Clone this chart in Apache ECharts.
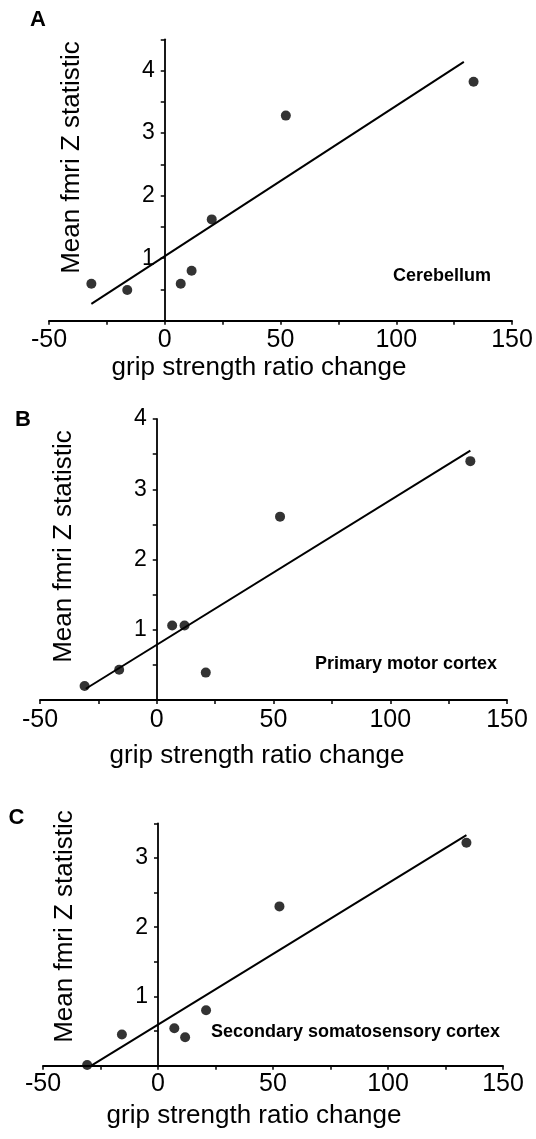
<!DOCTYPE html>
<html><head><meta charset="utf-8">
<script src="https://cdn.jsdelivr.net/npm/echarts@6/dist/echarts.min.js"></script>
<style>html,body{margin:0;padding:0;background:#fff}#c{width:536px;height:1139px}</style>
</head><body><div id="c"></div><script>
// ---- data ----
const gripA = [-31.7, -16.2, 6.9, 11.6, 20.3, 52.3, 133.4];
const zA    = [0.59, 0.49, 0.59, 0.80, 1.62, 3.28, 3.82];
const fitA  = [[-31.7, 0.27], [129.2, 4.14]];

const gripB = [-30.9, -16.1, 6.6, 11.9, 21.0, 52.8, 134.3];
const zB    = [0.20, 0.43, 1.06, 1.06, 0.39, 2.61, 3.40];
const fitB  = [[-30.4, 0.16], [134.3, 3.55]];

const gripC = [-30.8, -15.7, 7.1, 11.8, 20.9, 52.8, 134.1];
const zC    = [0.01, 0.45, 0.54, 0.41, 0.80, 2.30, 3.22];
const fitC  = [[-29.0, 0.0], [134.1, 3.33]];

const panelLetters = ['A', 'B', 'C'];
const regionNames = ['Cerebellum', 'Primary motor cortex', 'Secondary somatosensory cortex'];
const xTitle = 'grip strength ratio change';
const yTitle = 'Mean fmri Z statistic';
const xRange = [-50, 150];
const yMaxes = [4.5, 4, 3.5];

// ---- layout ----
const FONT = 'Liberation Sans';
const panels = [
  {grid: {left: 49, right: 24, top: 39.3, height: 281.4}, xNameGap: 34, xPadR: 43, yPadL: 45, xMargin: 7,
   letter: [30, 8.5], region: [393, 267.5]},
  {grid: {left: 40, right: 29, top: 419, height: 281}, xNameGap: 43, xPadR: 33, yPadL: 26, xMargin: 8,
   letter: [15, 408.5], region: [315, 655]},
  {grid: {left: 43, right: 33, top: 823.3, height: 242.4}, xNameGap: 37, xPadR: 38, yPadL: 36, xMargin: 6,
   letter: [8.5, 807], region: [211, 1023.5]}
];
const sets = [[gripA, zA, fitA], [gripB, zB, fitB], [gripC, zC, fitC]];

const grid = [], xAxis = [], yAxis = [], series = [], graphic = [];
panels.forEach((p, i) => {
  grid.push(Object.assign({containLabel: false, outerBoundsMode: 'none'}, p.grid));
  xAxis.push({
    type: 'value', gridIndex: i, min: xRange[0], max: xRange[1], interval: 25,
    name: xTitle, nameLocation: 'middle', nameGap: p.xNameGap,
    nameTextStyle: {fontFamily: FONT, fontSize: 26, color: '#000', padding: [0, p.xPadR, 0, 0]},
    axisLine: {onZero: false, lineStyle: {color: '#000', width: 1.8}},
    axisTick: {show: true, inside: false, length: 4, lineStyle: {color: '#000', width: 1.5}},
    axisLabel: {show: true, margin: p.xMargin, color: '#000', fontFamily: FONT, fontSize: 25,
      showMinLabel: true, showMaxLabel: true,
      formatter: v => (Math.round(v) % 50 === 0 ? String(Math.round(v)) : '')},
    splitLine: {show: false}
  });
  // data y axis (hidden); a visible copy is placed at x = 0 below
  yAxis.push({type: 'value', gridIndex: i, min: 0, max: yMaxes[i], interval: 0.5, show: false});
  const [gx, gz, fit] = sets[i];
  series.push({
    type: 'scatter', xAxisIndex: i, yAxisIndex: i, symbol: 'circle', symbolSize: 10,
    itemStyle: {color: '#000'}, data: gx.map((x, k) => [x, gz[k]]), z: 3
  });
  series.push({
    type: 'line', xAxisIndex: i, yAxisIndex: i, data: fit, showSymbol: false, symbol: 'none',
    lineStyle: {color: '#000', width: 2}, clip: false, z: 2
  });
  graphic.push({type: 'text', left: p.letter[0], top: p.letter[1],
    style: {text: panelLetters[i], fontFamily: FONT, fontWeight: 'bold', fontSize: 22, fill: '#000'}});
  graphic.push({type: 'text', left: p.region[0], top: p.region[1],
    style: {text: regionNames[i], fontFamily: FONT, fontWeight: 'bold', fontSize: 18, fill: '#000'}});
});

const chart = echarts.init(document.getElementById('c'), null, {renderer: 'canvas'});
chart.setOption({animation: false, backgroundColor: '#fff', grid, xAxis, yAxis, series, graphic});

// visible y axes, placed where the x scale puts zero
panels.forEach((p, i) => {
  const x0 = chart.convertToPixel({xAxisIndex: i}, 0);
  grid.push({left: x0, right: 0, top: p.grid.top, height: p.grid.height, containLabel: false, outerBoundsMode: 'none'});
  const gi = grid.length - 1;
  xAxis.push({type: 'value', gridIndex: gi, min: 0, max: 1, show: false});
  yAxis.push({
    type: 'value', gridIndex: gi, min: 0, max: yMaxes[i], interval: 0.5, position: 'left',
    name: yTitle, nameLocation: 'middle', nameGap: 80, nameRotate: 90,
    nameTextStyle: {fontFamily: FONT, fontSize: 26, color: '#000', padding: [0, 0, 0, p.yPadL]},
    axisLine: {show: true, onZero: false, lineStyle: {color: '#000', width: 1.8}},
    axisTick: {show: true, inside: false, length: 4, lineStyle: {color: '#000', width: 1.5}},
    axisLabel: {show: true, margin: 10, color: '#000', fontFamily: FONT, fontSize: 23,
      formatter: v => (v > 0 && Math.abs(v - Math.round(v)) < 1e-6 ? String(Math.round(v)) : '')},
    splitLine: {show: false}
  });
});
chart.setOption({grid, xAxis, yAxis});
</script></body></html>
